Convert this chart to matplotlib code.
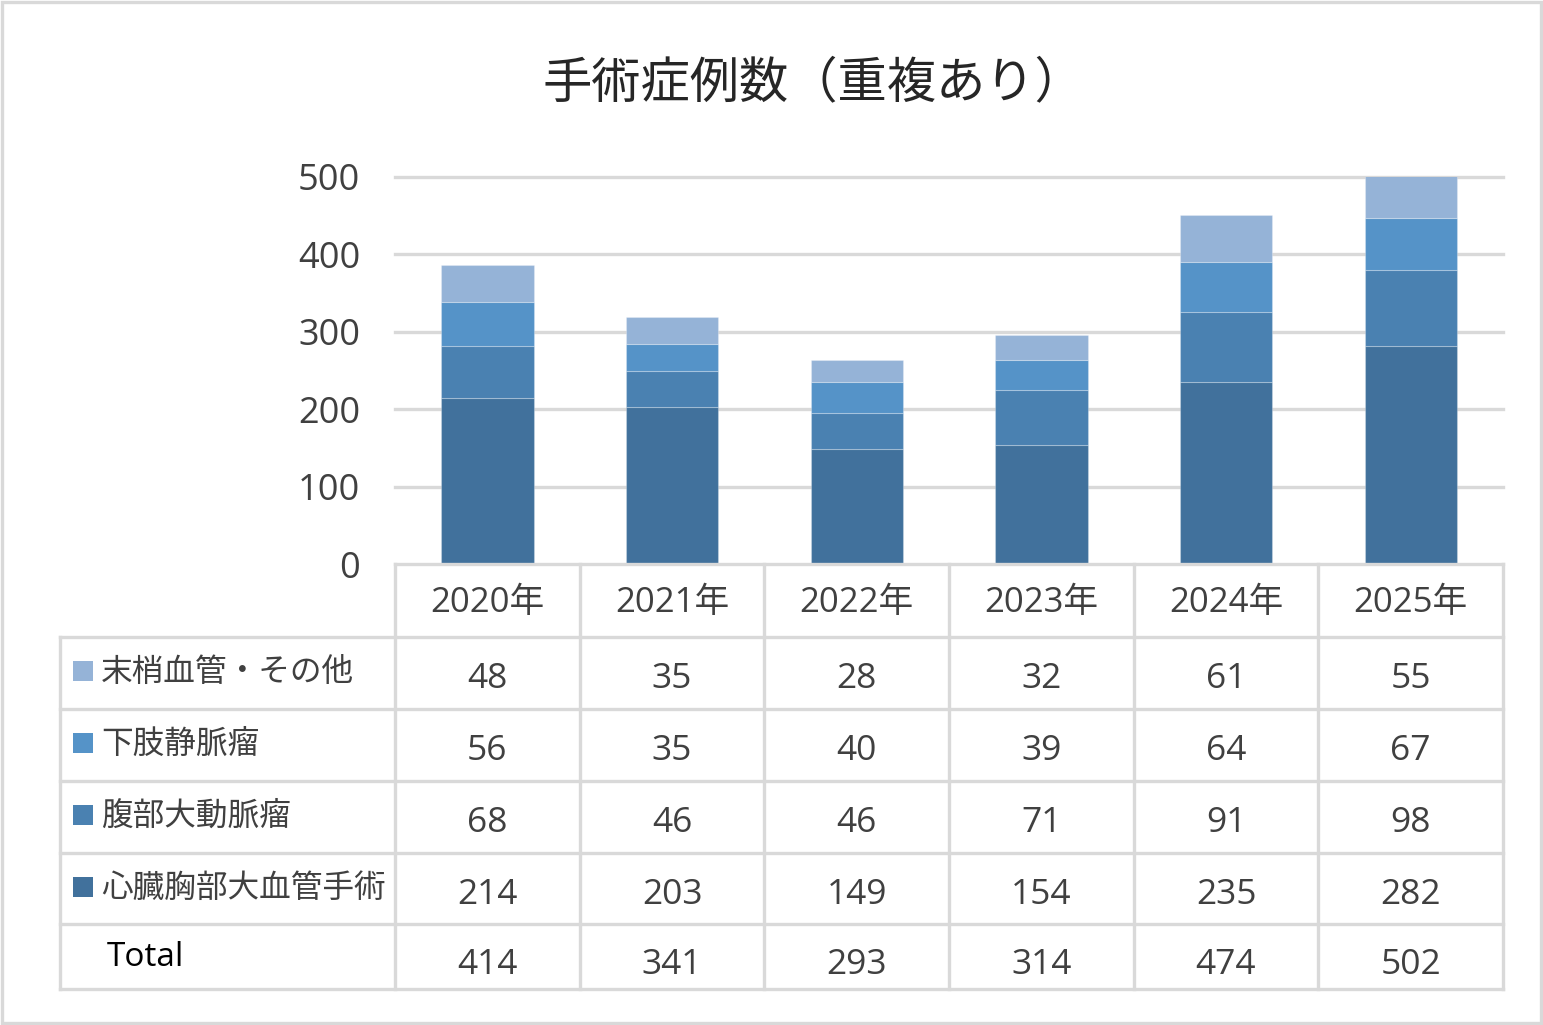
import numpy as np
import matplotlib
matplotlib.use('Agg')
import matplotlib.pyplot as plt
from matplotlib.patches import Rectangle

plt.rcParams['font.family'] = ['Open Sans', 'Noto Sans CJK JP', 'DejaVu Sans']

# data
years = ['2020年', '2021年', '2022年', '2023年', '2024年', '2025年']
series_names = ['心臓胸部大血管手術', '腹部大動脈瘤', '下肢静脈瘤', '末梢血管・その他']
cardiac = [214, 203, 149, 154, 235, 282]
abdominal = [68, 46, 46, 71, 91, 98]
varicose = [56, 35, 40, 39, 64, 67]
peripheral = [48, 35, 28, 32, 61, 55]
totals = [414, 341, 293, 314, 474, 502]
yticks = [0, 100, 200, 300, 400, 500]

colors = ['#41719C', '#4A81B1', '#5593C8', '#95B3D7']
grid_c = '#D9D9D9'
text_c = '#404040'

W, H = 1543, 1025
fig = plt.figure(figsize=(W / 100, H / 100), dpi=100)

# plot area in pixels
px_l, px_r, px_t, px_b = 395, 1503, 177, 564
ax = fig.add_axes([px_l / W, 1 - px_b / H, (px_r - px_l) / W, (px_b - px_t) / H])
x = np.arange(len(years))
stack = [cardiac, abdominal, varicose, peripheral]
bottom = np.zeros(len(years))
for vals, c in zip(stack, colors):
    ax.bar(x, vals, width=0.5, bottom=bottom, color=c, edgecolor=(1, 1, 1, 0.25),
           linewidth=0.8, zorder=3)
    bottom += np.array(vals)
ax.set_xlim(-0.5, len(years) - 0.5)
ax.set_ylim(0, 500)
ax.set_yticks(yticks)
ax.set_yticklabels([str(v) for v in yticks], fontsize=26, color=text_c)
ax.tick_params(axis='y', length=0, pad=25)
ax.set_xticks([])
for s in ax.spines.values():
    s.set_visible(False)
for v in yticks[1:]:
    ax.axhline(v, color=grid_c, lw=2.4, zorder=1, clip_on=False)

# overlay in pixel coordinates for title, table and border
ov2 = fig.add_axes([0, 0, 1, 1])
ov2.set_xlim(0, W)
ov2.set_ylim(H, 0)
ov2.axis('off')
ov2.patch.set_alpha(0)

ov2.text(813, 83, '手術症例数（重複あり）', fontsize=35.5, color='#262626',
         ha='center', va='center', family=['Noto Sans CJK JP'])

# table
col_w = (px_r - px_l) / len(years)
col_x = [px_l + i * col_w for i in range(len(years) + 1)]
row_y = [564, 637, 709, 781, 853, 924, 989]
lab_l = 60
lw_t = 2.4
for cx in col_x:
    ov2.plot([cx, cx], [row_y[0], row_y[-1]], color=grid_c, lw=lw_t, solid_capstyle='projecting')
ov2.plot([lab_l, lab_l], [row_y[1], row_y[-1]], color=grid_c, lw=lw_t, solid_capstyle='projecting')
ov2.plot([px_l, px_r], [row_y[0], row_y[0]], color=grid_c, lw=lw_t, solid_capstyle='projecting')
for ry in row_y[1:]:
    ov2.plot([lab_l, px_r], [ry, ry], color=grid_c, lw=lw_t, solid_capstyle='projecting')

centers = [(col_x[i] + col_x[i + 1]) / 2 for i in range(len(years))]
for cx, yr in zip(centers, years):
    ov2.text(cx, 603, yr, fontsize=25, color=text_c, ha='center', va='center')

rows = [(series_names[3], peripheral, colors[3]),
        (series_names[2], varicose, colors[2]),
        (series_names[1], abdominal, colors[1]),
        (series_names[0], cardiac, colors[0])]
for r, (name, vals, c) in enumerate(rows):
    ymid = (row_y[r + 1] + row_y[r + 2]) / 2
    ov2.add_patch(Rectangle((73, ymid - 12), 20, 20, facecolor=c, edgecolor='none'))
    ov2.text(101, ymid - 1, name, fontsize=22.8, color=text_c, ha='left', va='center',
             family=['Noto Sans CJK JP'])
    for cx, v in zip(centers, vals):
        ov2.text(cx, ymid + 6, str(v), fontsize=25.5, color=text_c, ha='center', va='center')

ymid = (row_y[5] + row_y[6]) / 2
ov2.text(107, ymid + 1, 'Total', fontsize=24, color='black', ha='left', va='center')
for cx, v in zip(centers, totals):
    ov2.text(cx, ymid + 9, str(v), fontsize=25.5, color=text_c, ha='center', va='center')

# outer border
ov2.add_patch(Rectangle((1.5, 1.5), W - 4, H - 4, fill=False, edgecolor=grid_c, lw=2.4))

fig.savefig('out.png', dpi=100, facecolor='white')
